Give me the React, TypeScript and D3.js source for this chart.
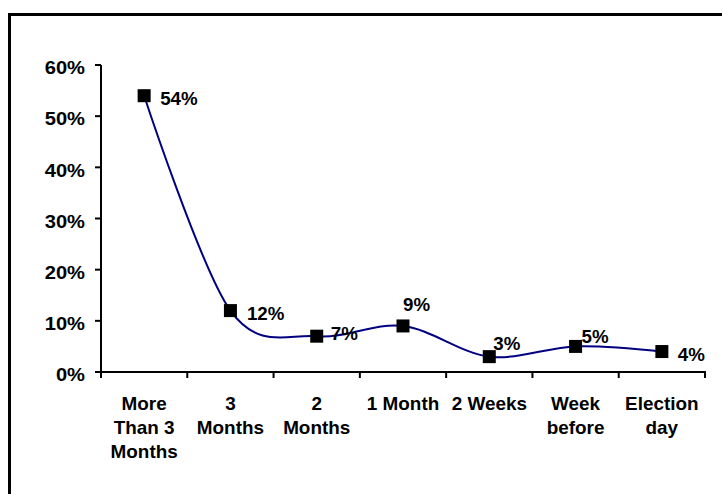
import React from 'react';
import * as d3 from 'd3';

// chart data
const categories = ['More Than 3 Months', '3 Months', '2 Months', '1 Month', '2 Weeks', 'Week before', 'Election day'];
const categoryLines = [
  ['More', 'Than 3', 'Months'],
  ['3', 'Months'],
  ['2', 'Months'],
  ['1 Month'],
  ['2 Weeks'],
  ['Week', 'before'],
  ['Election', 'day'],
];
const values = [54, 12, 7, 9, 3, 5, 4];
const yTicks = [0, 10, 20, 30, 40, 50, 60];
// label offsets from each marker centre: [dx to text start, dy to baseline]
const labelOffsets: [number, number][] = [
  [16, 9.5], [16.5, 9.5], [14, 4], [0, -14.5], [4, -7], [6, -3.5], [16, 9.5],
];

const width = 722;
const height = 494;
const font = '"Liberation Sans", Arial, sans-serif';

const App: React.FC = () => {
  const x = d3.scaleBand<string>().domain(categories).range([101, 705]);
  const y = d3.scaleLinear().domain([0, 60]).range([372, 65]);

  const pts: [number, number][] = values.map((v, i) => [x(categories[i])! + x.bandwidth() / 2, y(v)]);
  const line = d3.line().curve(d3.curveCardinal.tension(0))(pts) || '';

  const boundaries = categories.map(c => x(c)!).concat([x.range()[1]]);

  return (
    <svg width={width} height={height} style={{ position: 'absolute', left: 0, top: 0, background: '#fff' }}>
      {/* outer frame */}
      <rect x={9.5} y={14.5} width={740} height={500} fill="none" stroke="#000" strokeWidth={3} />

      {/* y axis */}
      <line x1={101} x2={101} y1={y(60)} y2={y(0)} stroke="#000" strokeWidth={2} />
      {yTicks.map(t => (
        <g key={t}>
          <line x1={95} x2={101} y1={y(t)} y2={y(t)} stroke="#000" strokeWidth={2} />
          <text transform={`translate(85,${y(t) + 9.3}) scale(1.15,1)`} textAnchor="end" fontFamily={font} fontWeight="bold" fontSize={17.5}>
            {t}%
          </text>
        </g>
      ))}

      {/* x axis */}
      <line x1={100} x2={x.range()[1] + 1} y1={y(0)} y2={y(0)} stroke="#000" strokeWidth={2} />
      {boundaries.map((b, i) => (
        <line key={i} x1={b} x2={b} y1={y(0)} y2={y(0) + 6} stroke="#000" strokeWidth={2} />
      ))}
      {categories.map((c, i) => (
        <text key={c} transform={`translate(${x(c)! + x.bandwidth() / 2},410) scale(1.08,1)`} textAnchor="middle" fontFamily={font} fontWeight="bold" fontSize={17.5}>
          {categoryLines[i].map((l, j) => (
            <tspan key={j} x={0} dy={j === 0 ? 0 : 24}>{l}</tspan>
          ))}
        </text>
      ))}

      {/* smoothed line */}
      <path d={line} fill="none" stroke="#000080" strokeWidth={2} />

      {/* markers */}
      {pts.map(([px, py], i) => (
        <rect key={i} x={px - 6.5} y={py - 6.5} width={13} height={13} fill="#000" />
      ))}

      {/* data labels */}
      {pts.map(([px, py], i) => (
        <text key={i} transform={`translate(${px + labelOffsets[i][0]},${py + labelOffsets[i][1]}) scale(1.07,1)`} fontFamily={font} fontWeight="bold" fontSize={17.5}>
          {values[i]}%
        </text>
      ))}
    </svg>
  );
};

export default App;
